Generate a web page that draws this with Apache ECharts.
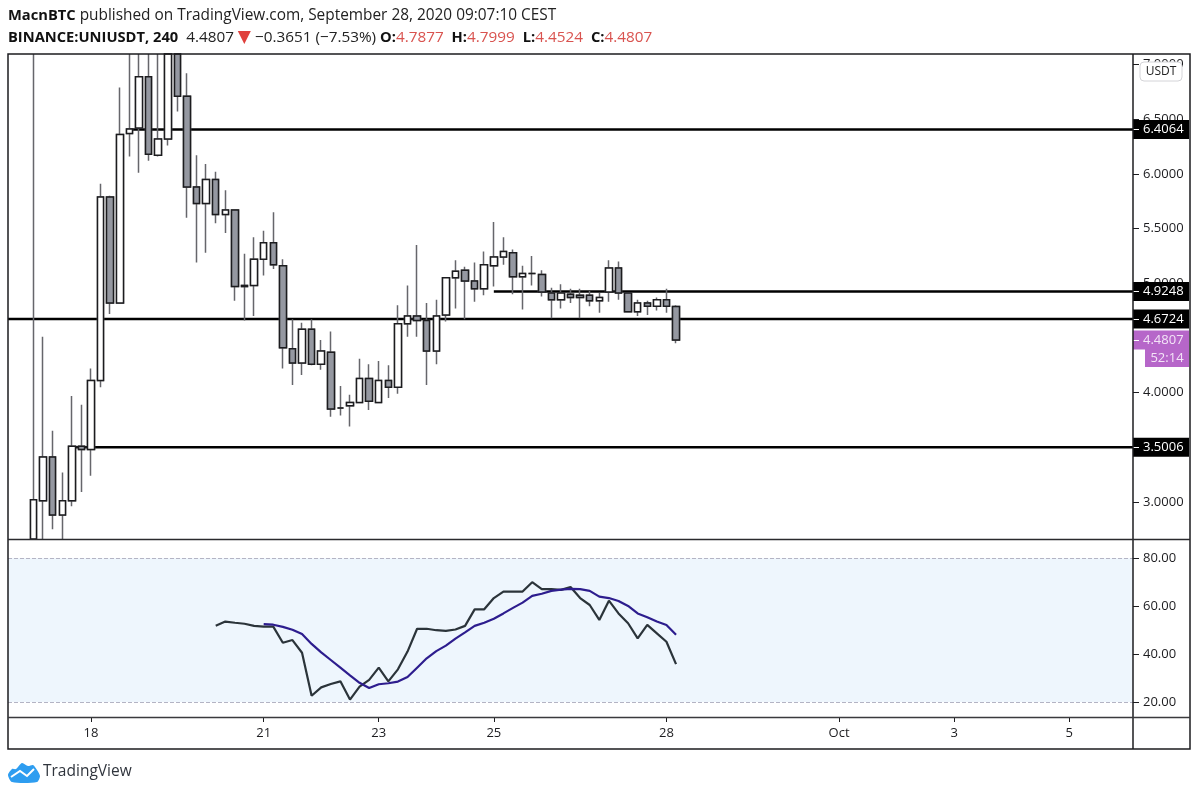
<!DOCTYPE html>
<html>
<head>
<meta charset="utf-8">
<title>UNIUSDT</title>
<script src="https://cdn.jsdelivr.net/npm/echarts@6/dist/echarts.min.js"></script>
<style>
html, body { margin: 0; padding: 0; background: #fff; }
#first { width: 1199px; height: 795px; }
</style>
</head>
<body>
<div id="first"></div>
<script>
// candles, one every 4 hours, values above 7.10 and below 2.66 run off the pane
var opens = [2.50, 3.01, 3.41, 2.88, 3.01, 3.51, 3.48, 4.11, 5.79, 4.82, 6.37, 6.42, 6.89, 6.17, 6.32, 7.30, 6.71, 5.88, 5.73, 5.95,
    5.63, 5.67, 4.97, 4.98, 5.22, 5.37, 5.16, 4.40, 4.27, 4.58, 4.26, 4.37, 3.86, 3.88, 3.91, 4.13, 3.91, 4.11, 4.05, 4.63,
    4.70, 4.66, 4.38, 4.71, 5.05, 5.12, 5.02, 4.95, 5.16, 5.24, 5.28, 5.06, 5.09, 5.08, 4.91, 4.85, 4.90, 4.89, 4.89, 4.84,
    4.92, 5.14, 4.91, 4.74, 4.82, 4.79, 4.85, 4.7877];
var closes = [3.02, 3.41, 2.88, 3.01, 3.51, 3.48, 4.11, 5.79, 4.82, 6.36, 6.41, 6.89, 6.18, 6.32, 7.30, 6.71, 5.88, 5.73, 5.95, 5.63,
    5.67, 4.97, 4.98, 5.22, 5.37, 5.17, 4.41, 4.27, 4.58, 4.26, 4.38, 3.85, 3.86, 3.91, 4.13, 3.92, 4.11, 4.05, 4.63, 4.70,
    4.66, 4.38, 4.70, 5.05, 5.11, 5.02, 4.95, 5.17, 5.24, 5.29, 5.06, 5.09, 5.09, 4.92, 4.85, 4.91, 4.87, 4.87, 4.84, 4.87,
    5.14, 4.91, 4.74, 4.82, 4.79, 4.85, 4.79, 4.4807];
var lows = [2.40, 2.60, 2.75, 2.60, 2.96, 3.09, 3.24, 4.05, 4.72, 4.82, 6.16, 6.01, 6.12, 6.16, 6.26, 6.57, 5.60, 5.19, 5.28, 5.55,
    5.46, 4.84, 4.66, 4.70, 5.07, 5.13, 4.22, 4.07, 4.16, 4.25, 4.21, 3.78, 3.79, 3.69, 3.91, 3.84, 3.91, 3.95, 3.99, 4.51,
    4.51, 4.07, 4.26, 4.65, 4.77, 4.67, 4.83, 4.89, 4.97, 5.17, 4.90, 4.76, 4.98, 4.88, 4.68, 4.77, 4.82, 4.68, 4.79, 4.73,
    4.83, 4.85, 4.74, 4.70, 4.71, 4.75, 4.73, 4.4524];
var highs = [7.30, 4.51, 3.65, 3.27, 3.97, 3.89, 4.22, 5.91, 5.80, 6.79, 7.30, 7.30, 7.30, 7.30, 7.50, 7.40, 6.92, 6.17, 6.09, 6.02,
    5.85, 5.67, 5.27, 5.42, 5.48, 5.65, 5.22, 4.67, 4.64, 4.67, 4.48, 4.56, 4.06, 3.98, 4.31, 4.26, 4.29, 4.25, 4.80, 4.98,
    5.35, 4.82, 4.85, 5.05, 5.21, 5.15, 5.19, 5.29, 5.56, 5.42, 5.31, 5.16, 5.25, 5.12, 4.96, 4.99, 4.95, 4.95, 4.93, 4.91,
    5.21, 5.20, 4.91, 4.85, 4.84, 4.87, 4.95, 4.7999];

// indicator pane, both lines start part way along so they carry their first index
var rsiStart = 19;
var rsiValues = [51.8, 53.5, 53.0, 52.6, 51.7, 51.4, 51.4, 44.7, 45.8, 40.5, 22.6, 26.1, 27.5, 28.6, 21.0, 26.4, 29.2, 34.3, 28.6, 33.6,
    41.0, 50.5, 50.5, 49.9, 49.6, 50.2, 51.7, 58.6, 58.6, 63.3, 66.0, 66.0, 66.0, 69.9, 67.0, 67.0, 66.7, 67.9, 63.3, 60.4,
    54.2, 62.2, 56.9, 52.8, 46.5, 52.1, 48.6, 45.1, 35.8];
var rsiMaStart = 24;
var rsiMaValues = [52.4, 52.2, 51.3, 50.1, 48.3, 44.2, 40.7, 37.5, 34.3, 31.1, 28.0, 25.8, 27.4, 27.8, 28.5, 30.4, 34.3, 38.2, 41.2, 43.5,
    46.4, 49.0, 51.7, 53.0, 54.7, 56.9, 59.2, 61.4, 64.2, 65.1, 66.3, 66.8, 67.1, 67.0, 66.3, 63.9, 63.3, 62.1, 60.0, 56.9,
    55.3, 53.5, 52.1, 48.0];

// horizontal levels and the candle index each one is drawn from
var levelValues = [6.4064, 4.9248, 4.6724, 3.5006];
var levelStarts = [10, 48, -2.66, 4];
var lastPrice = 4.4807;
var countdown = '52:14';

// axis labels
var xTickIndex = [6, 24, 36, 48, 66, 84, 96, 108];
var xTickLabels = ['18', '21', '23', '25', '28', 'Oct', '3', '5'];
var priceTicks = [3, 3.5, 4, 4.5, 5, 5.5, 6, 6.5, 7];
var rsiTicks = [20, 40, 60, 80];

var xMin = -2.66, xMax = 114.65;
var priceMin = 2.661, priceMax = 7.097;
var font = '"Open Sans", "Noto Sans", sans-serif';
var axisColor = '#1c1c1f';

// candlestick only culls boxes that are fully outside, so hold the ends to the pane
function inPane(v) {
    return Math.min(Math.max(v, priceMin), priceMax);
}

var rowsWick = opens.map(function(o, i) {
    return [i, inPane(o), inPane(closes[i]), inPane(lows[i]), inPane(highs[i])];
});
var rowsBody = opens.map(function(o, i) {
    var a = inPane(o), b = inPane(closes[i]);
    return [i, a, b, Math.min(a, b), Math.max(a, b)];
});

function fromIndex(values, start) {
    return values.map(function(v, i) { return [start + i, v]; });
}

function xAxisOf(gridIndex, withLabels) {
    return {
        type: 'value',
        gridIndex: gridIndex,
        min: xMin,
        max: xMax,
        splitLine: { show: false },
        axisLine: { show: false, onZero: false },
        axisTick: { show: withLabels, customValues: xTickIndex, length: 5, lineStyle: { color: axisColor } },
        axisLabel: {
            show: withLabels,
            customValues: xTickIndex,
            margin: 10,
            fontFamily: font,
            fontSize: 13,
            color: axisColor,
            formatter: function(v) { return xTickLabels[xTickIndex.indexOf(v)]; }
        }
    };
}

var series = [];

// level lines sit under the candles and carry the black tags on the price scale
levelValues.forEach(function(v, i) {
    series.push({
        type: 'line',
        xAxisIndex: 0,
        yAxisIndex: 0,
        z: 1,
        silent: true,
        symbol: 'none',
        lineStyle: { color: '#000', width: 2.5 },
        data: [[levelStarts[i], v], [xMax, v]],
        endLabel: {
            show: true,
            distance: 0,
            formatter: v.toFixed(4),
            width: 46,
            align: 'left',
            padding: [3, 0, 3, 10],
            backgroundColor: '#000',
            color: '#fff',
            fontFamily: font,
            fontSize: 13
        }
    });
});

// last price tag, its line is not drawn in the reference
series.push({
    type: 'line',
    xAxisIndex: 0,
    yAxisIndex: 0,
    z: 1,
    silent: true,
    symbol: 'none',
    lineStyle: { opacity: 0 },
    data: [[xMax - 1, lastPrice], [xMax, lastPrice]],
    endLabel: {
        show: true,
        distance: 0,
        formatter: lastPrice.toFixed(4),
        width: 46,
        align: 'left',
        padding: [3, 0, 3, 10],
        backgroundColor: '#b666c9',
        color: '#f3e4f7',
        fontFamily: font,
        fontSize: 13
    }
});

// first candlestick gives the grey wicks, the second redraws the bodies with a dark edge
series.push({
    type: 'candlestick',
    xAxisIndex: 0,
    yAxisIndex: 0,
    z: 3,
    silent: true,
    barWidth: 7,
    itemStyle: { color: '#fff', color0: '#9598a1', borderColor: '#66666b', borderColor0: '#66666b', borderWidth: 1.5 },
    data: rowsWick
});
series.push({
    type: 'candlestick',
    xAxisIndex: 0,
    yAxisIndex: 0,
    z: 4,
    silent: true,
    barWidth: 7,
    itemStyle: { color: '#fff', color0: '#9598a1', borderColor: '#1c1c1f', borderColor0: '#1c1c1f', borderWidth: 1.5 },
    data: rowsBody
});

series.push({
    type: 'line',
    xAxisIndex: 1,
    yAxisIndex: 2,
    z: 3,
    silent: true,
    symbol: 'none',
    lineStyle: { color: '#2b343a', width: 2.2 },
    data: fromIndex(rsiValues, rsiStart),
    markArea: {
        silent: true,
        itemStyle: { color: '#eef6fd' },
        data: [[{ yAxis: rsiTicks[0] }, { yAxis: rsiTicks[3] }]]
    },
    markLine: {
        silent: true,
        symbol: 'none',
        label: { show: false },
        lineStyle: { color: '#b4b4c4', type: 'dashed', width: 1 },
        data: [{ yAxis: rsiTicks[0] }, { yAxis: rsiTicks[3] }]
    }
});
series.push({
    type: 'line',
    xAxisIndex: 1,
    yAxisIndex: 2,
    z: 4,
    silent: true,
    symbol: 'none',
    lineStyle: { color: '#2d1d8e', width: 2.2 },
    data: fromIndex(rsiMaValues, rsiMaStart)
});

var option = {
    backgroundColor: '#fff',
    animation: false,
    textStyle: { fontFamily: font },
    grid: [
        { left: 8, top: 54, width: 1125, height: 485 },
        { left: 8, top: 539, width: 1125, height: 178 }
    ],
    xAxis: [xAxisOf(0, false), xAxisOf(1, true)],
    yAxis: [{
        type: 'value',
        gridIndex: 0,
        position: 'right',
        min: priceMin,
        max: priceMax,
        splitLine: { show: false },
        axisLine: { show: false, onZero: false },
        axisTick: { customValues: priceTicks, length: 6, lineStyle: { color: axisColor } },
        axisLabel: {
            customValues: priceTicks,
            margin: 10,
            fontFamily: font,
            fontSize: 13,
            color: axisColor,
            formatter: function(v) { return v.toFixed(4); }
        }
    }, {
        // ticks on the dark tags
        type: 'value',
        gridIndex: 0,
        position: 'right',
        min: priceMin,
        max: priceMax,
        z: 20,
        splitLine: { show: false },
        axisLine: { show: false, onZero: false },
        axisLabel: { show: false },
        axisTick: { customValues: levelValues.concat([lastPrice]), length: 6, lineStyle: { color: '#fff' } }
    }, {
        type: 'value',
        gridIndex: 1,
        position: 'right',
        min: 13.75,
        max: 87.9,
        splitLine: { show: false },
        axisLine: { show: false, onZero: false },
        axisTick: { customValues: rsiTicks, length: 6, lineStyle: { color: axisColor } },
        axisLabel: {
            customValues: rsiTicks,
            margin: 10,
            fontFamily: font,
            fontSize: 13,
            color: axisColor,
            formatter: function(v) { return v.toFixed(2); }
        }
    }],
    series: series,
    graphic: [
        {
            type: 'text', x: 8, y: 8, z: 50,
            style: {
                text: '{b|MacnBTC} published on TradingView.com, September 28, 2020 09:07:10 CEST',
                font: '15.4px ' + font, fill: '#222',
                rich: { b: { fontWeight: 'bold', fontSize: 14.7, fontFamily: font, fill: '#111' } }
            }
        },
        {
            type: 'text', x: 8, y: 29, z: 50,
            style: {
                text: '{b|BINANCE:UNIUSDT, 240}  4.4807 {t|▼} −0.3651 (−7.53%) {b|O:}{r|4.7877}  {b|H:}{r|4.7999}  {b|L:}{r|4.4524}  {b|C:}{r|4.4807}',
                font: '15.3px ' + font, fill: '#222',
                rich: {
                    b: { fontWeight: 'bold', fontSize: 14.7, fontFamily: font, fill: '#111' },
                    r: { fontSize: 15.3, fontFamily: font, fill: '#d9534f' },
                    t: { fontSize: 17, fontFamily: 'DejaVu Sans', fill: '#e0403c' }
                }
            }
        },
        // countdown under the last price
        { type: 'rect', z: 50, shape: { x: 1145, y: 349, width: 44, height: 18 }, style: { fill: '#b666c9' } },
        { type: 'text', x: 1167, y: 358, z: 51, style: { text: countdown, font: '13px ' + font, fill: '#f3e4f7', align: 'center', verticalAlign: 'middle' } },
        // currency badge
        { type: 'rect', z: 50, shape: { x: 1140, y: 62, width: 42, height: 19, r: 4 }, style: { fill: '#fff', stroke: '#d4d4d8', lineWidth: 1 } },
        { type: 'text', x: 1161, y: 72, z: 51, style: { text: 'USDT', font: '12px ' + font, fill: '#222', align: 'center', verticalAlign: 'middle' } },
        // outer frame and pane separators
        { type: 'rect', z: 40, shape: { x: 8, y: 54, width: 1182, height: 695 }, style: { fill: 'none', stroke: '#1c1c1f', lineWidth: 1.5 } },
        { type: 'line', z: 40, shape: { x1: 1133, y1: 54, x2: 1133, y2: 749 }, style: { stroke: '#1c1c1f', lineWidth: 1.5 } },
        { type: 'line', z: 40, shape: { x1: 8, y1: 539.5, x2: 1190, y2: 539.5 }, style: { stroke: '#2a2a2d', lineWidth: 1.5 } },
        { type: 'line', z: 40, shape: { x1: 8, y1: 717.5, x2: 1190, y2: 717.5 }, style: { stroke: '#3a3a3d', lineWidth: 1.5 } },
        // TradingView mark
        {
            type: 'polygon', z: 50,
            shape: { smooth: 0.25, points: [[8, 775], [12, 769], [16, 769], [22, 763], [28, 766], [33, 765], [37, 770], [40, 776], [37, 782], [12, 782]] },
            style: { fill: '#2e9df0' }
        },
        { type: 'polyline', z: 51, shape: { points: [[11, 777], [20, 771], [27, 776], [34, 769]] }, style: { stroke: '#fff', fill: 'none', lineWidth: 2 } },
        { type: 'text', x: 43, y: 764, z: 50, style: { text: 'TradingView', font: '15.5px ' + font, fill: '#30353d' } }
    ]
};

var myChart = echarts.init(document.getElementById('first'));
myChart.setOption(option);
</script>
</body>
</html>
